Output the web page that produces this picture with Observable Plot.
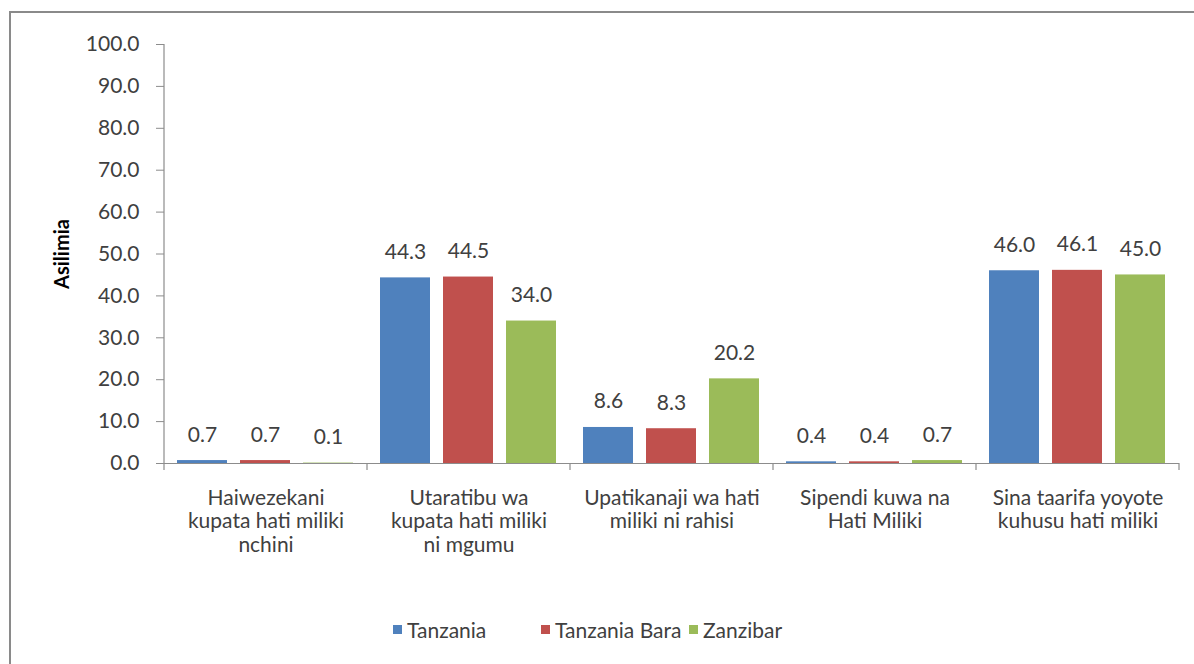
<!DOCTYPE html>
<html>
<head>
<meta charset="utf-8">
<script src="https://cdn.jsdelivr.net/npm/d3@7"></script>
<script src="https://cdn.jsdelivr.net/npm/@observablehq/plot@0.6"></script>
<style>
  html, body { margin: 0; padding: 0; background: #fff; width: 1194px; height: 664px; overflow: hidden; }
  #frame { position: absolute; left: 9px; top: 11px; width: 1300px; height: 700px; border: 2px solid #8a8a8a; box-sizing: border-box; }
  #chart { position: absolute; left: 0; top: 0; }
  #legend { position: absolute; left: 393px; top: 617px; display: flex; font-family: Lato, "Open Sans", sans-serif; font-size: 21px; color: #404040; }
  .item { display: flex; align-items: center; width: 148px; white-space: nowrap; }
  .sw { width: 9px; height: 9px; margin-right: 5px; flex: none; }
</style>
</head>
<body>
<div id="frame"></div>
<div id="chart"></div>
<div id="legend"></div>
<script>
const categories = [
  "Haiwezekani kupata hati miliki nchini",
  "Utaratibu wa kupata hati miliki ni mgumu",
  "Upatikanaji wa hati miliki ni rahisi",
  "Sipendi kuwa na Hati Miliki",
  "Sina taarifa yoyote kuhusu hati miliki"
];
const categoryLabels = [
  "Haiwezekani\nkupata hati miliki\nnchini",
  "Utaratibu wa\nkupata hati miliki\nni mgumu",
  "Upatikanaji wa hati\nmiliki ni rahisi",
  "Sipendi kuwa na\nHati Miliki",
  "Sina taarifa yoyote\nkuhusu hati miliki"
];
const series = ["Tanzania", "Tanzania Bara", "Zanzibar"];
const tanzania = [0.7, 44.3, 8.6, 0.4, 46.0];
const tanzaniaBara = [0.7, 44.5, 8.3, 0.4, 46.1];
const zanzibar = [0.1, 34.0, 20.2, 0.7, 45.0];
const colors = ["#4F81BD", "#C0504D", "#9BBB59"];
const yTicks = [0, 10, 20, 30, 40, 50, 60, 70, 80, 90, 100];

const seriesValues = [tanzania, tanzaniaBara, zanzibar];
const data = [];
categories.forEach((c, i) => {
  series.forEach((s, j) => data.push({cat: c, series: s, value: seriesValues[j][i]}));
});
const labelOf = new Map(categories.map((c, i) => [c, categoryLabels[i]]));

const font = "Lato, 'Open Sans', sans-serif";
const plot = Plot.plot({
  width: 1194,
  height: 575,
  marginLeft: 163,
  marginRight: 14,
  marginTop: 44,
  marginBottom: 112,
  style: {fontFamily: font, fontSize: "21px", color: "#404040", background: "transparent"},
  fx: {domain: categories, padding: 0, label: null},
  x: {domain: series, paddingInner: 0.2, paddingOuter: 0.19, axis: null},
  y: {domain: [0, 100], label: null},
  color: {domain: series, range: colors},
  marks: [
    Plot.barY(data, {fx: "cat", x: "series", y: "value", fill: "series"}),
    Plot.ruleY([0], {stroke: "#8c8c8c", strokeWidth: 1.2}),
    Plot.text(data, {fx: "cat", x: "series", y: "value", text: d => d3.format(".1f")(d.value),
      lineAnchor: "bottom", dy: -19, fill: "#404040", fontSize: 21}),
    Plot.axisY({ticks: yTicks, tickFormat: d3.format(".1f"), tickSize: 8, tickPadding: 17,
      stroke: "#8c8c8c", fill: "#404040", fontSize: 21,
      label: "Asilimia", labelAnchor: "center", labelArrow: "none", labelOffset: 110}),
    Plot.axisFx({anchor: "bottom", tickSize: 0, tickPadding: 24, tickFormat: d => labelOf.get(d),
      lineHeight: 1.14, fill: "#404040", fontSize: 21, label: null})
  ]
});
document.getElementById("chart").appendChild(plot);

// axis line and category boundary ticks, from the plot's own scales
const fxs = plot.scale("fx"), ys = plot.scale("y");
const svg = d3.select(plot);
const y0 = ys.apply(0), y100 = ys.apply(100);
const left = fxs.apply(categories[0]);
svg.append("line").attr("x1", left).attr("x2", left).attr("y1", y100).attr("y2", y0 + 7)
  .attr("stroke", "#8c8c8c").attr("stroke-width", 1.2);
const edges = categories.map(c => fxs.apply(c) + fxs.bandwidth);
edges.forEach(e => svg.append("line").attr("x1", e).attr("x2", e).attr("y1", y0).attr("y2", y0 + 7)
  .attr("stroke", "#8c8c8c").attr("stroke-width", 1.2));
svg.select('g[aria-label="y-axis label"]').attr("font-weight", "bold").attr("fill", "#000").attr("font-size", 20);

// legend
const lg = document.getElementById("legend");
series.forEach((s, i) => {
  const it = document.createElement("div"); it.className = "item";
  const sw = document.createElement("div"); sw.className = "sw"; sw.style.background = colors[i];
  const t = document.createElement("span"); t.textContent = s;
  it.appendChild(sw); it.appendChild(t); lg.appendChild(it);
});
</script>
</body>
</html>
